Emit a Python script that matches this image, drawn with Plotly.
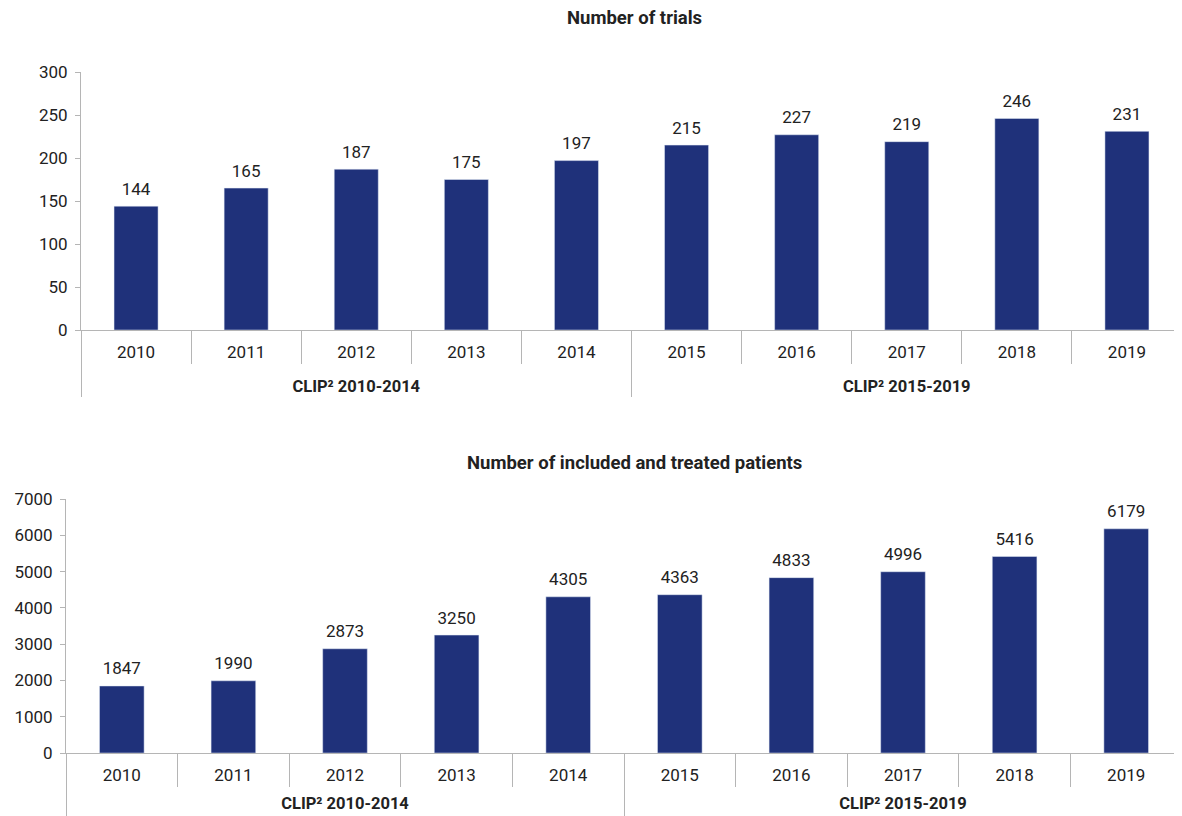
import plotly.graph_objects as go

years = ["2010", "2011", "2012", "2013", "2014", "2015", "2016", "2017", "2018", "2019"]
group_names = ["CLIP² 2010-2014", "CLIP² 2015-2019"]
group_centers = [2, 7]          # category index at the middle of each group
group_bounds = [-0.5, 4.5, 9.5]  # category boundaries between groups
trials = [144, 165, 187, 175, 197, 215, 227, 219, 246, 231]
patients = [1847, 1990, 2873, 3250, 4305, 4363, 4833, 4996, 5416, 6179]
titles = ["Number of trials", "Number of included and treated patients"]

BAR = "#1F317A"
GRID = "#b5b5b5"
TXT = "#222222"
FONT = "Roboto"

OFF = 8  # page body margin
W, H = 1182 - OFF, 816 - OFF
idx = list(range(len(years)))

fig = go.Figure()
for vals, xa, xo, ya in [(trials, "x", "x3", "y"), (patients, "x2", "x4", "y2")]:
    fig.add_trace(go.Bar(x=years, y=vals, marker_color=BAR, width=0.4,
                         hoverinfo="x+y", xaxis=xa, yaxis=ya))
    fig.add_trace(go.Scatter(x=idx, y=vals, mode="markers+text", text=vals,
                             textposition="top center",
                             marker=dict(size=10, color="rgba(0,0,0,0)"),
                             textfont=dict(size=17, color=TXT, family=FONT),
                             cliponaxis=False, hoverinfo="skip",
                             xaxis=xo, yaxis=ya))

RANGE = [-0.5, 9.5]

def xax(x0, anchor):
    return dict(type="category", domain=[(x0 - OFF) / W, 1.0], anchor=anchor,
                range=RANGE, automargin=False,
                showline=True, linecolor=GRID, linewidth=1,
                ticks="outside", ticklen=33, tickcolor=GRID, tickwidth=1,
                tickson="boundaries", ticklabelstandoff=7,
                tickfont=dict(size=17, color=TXT, family=FONT),
                showgrid=False, zeroline=False)

def group_ax(base, anchor, standoff):
    return dict(overlaying=base, anchor=anchor, type="linear", range=RANGE,
                tickmode="array", tickvals=group_centers,
                ticktext=["<b>%s</b>" % g for g in group_names],
                ticks="", ticklabelstandoff=standoff,
                minor=dict(tickmode="array", tickvals=group_bounds, ticks="outside",
                           ticklen=66, tickcolor=GRID, tickwidth=1, showgrid=False),
                tickfont=dict(size=16.5, color=TXT, family=FONT),
                showline=False, showgrid=False, zeroline=False, automargin=False)

def yax(y0, y1, rng, dt, anchor):
    return dict(domain=[1 - (y1 - OFF) / H, 1 - (y0 - OFF) / H], range=rng, dtick=dt,
                anchor=anchor, automargin=False,
                showline=True, linecolor=GRID, linewidth=1,
                ticks="outside", ticklen=5, tickcolor=GRID, ticklabelstandoff=4,
                showgrid=False, zeroline=False,
                tickfont=dict(size=17, color=TXT, family=FONT))

fig.update_layout(
    width=W, height=H, margin=dict(l=0, r=0, t=0, b=0),
    paper_bgcolor="white", plot_bgcolor="white", showlegend=False,
    font=dict(family=FONT, color=TXT),
    xaxis=xax(81, "y"), yaxis=yax(72, 330, [0, 300], 50, "x"),
    xaxis3=group_ax("x", "y", 44),
    xaxis2=xax(66, "y2"), yaxis2=yax(499, 753, [0, 7000], 1000, "x2"),
    xaxis4=group_ax("x2", "y2", 38),
    annotations=[
        dict(text="<b>%s</b>" % titles[0], x=(634 - OFF) / W, y=1 - (18 - OFF) / H,
             xref="paper", yref="paper", showarrow=False,
             font=dict(size=18.5, color=TXT, family=FONT), yanchor="middle"),
        dict(text="<b>%s</b>" % titles[1], x=(634 - OFF) / W, y=1 - (463 - OFF) / H,
             xref="paper", yref="paper", showarrow=False,
             font=dict(size=18.5, color=TXT, family=FONT), yanchor="middle"),
    ],
)

fig.write_html("out.html")
